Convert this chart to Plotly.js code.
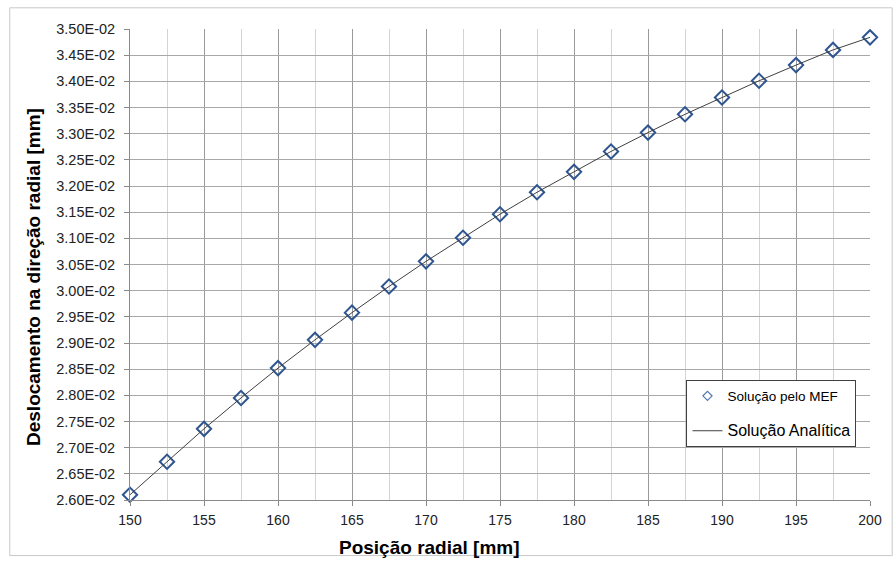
<!DOCTYPE html>
<html>
<head>
<meta charset="utf-8">
<script src="https://cdn.plot.ly/plotly-3.0.1.min.js"></script>
<style>body{margin:0;padding:0;background:#fff;}#chart{width:896px;height:562px;}</style>
</head>
<body>
<div id="chart"></div>
<script>
const posicao = [150, 152.5, 155, 157.5, 160, 162.5, 165, 167.5, 170, 172.5, 175, 177.5, 180, 182.5, 185, 187.5, 190, 192.5, 195, 197.5, 200];
const deslocMEF = [0.02610, 0.02673, 0.02736, 0.02795, 0.02852, 0.02906, 0.02958, 0.03008, 0.03056, 0.03101, 0.03146, 0.03188, 0.03227, 0.03266, 0.03302, 0.03337, 0.03369, 0.03401, 0.03431, 0.03460, 0.03484];
const deslocAnalitica = [0.02610, 0.02673, 0.02736, 0.02795, 0.02852, 0.02906, 0.02958, 0.03008, 0.03056, 0.03101, 0.03146, 0.03188, 0.03227, 0.03266, 0.03302, 0.03337, 0.03369, 0.03401, 0.03431, 0.03460, 0.03484];
const yTickVals = [0.026, 0.0265, 0.027, 0.0275, 0.028, 0.0285, 0.029, 0.0295, 0.030, 0.0305, 0.031, 0.0315, 0.032, 0.0325, 0.033, 0.0335, 0.034, 0.0345, 0.035];
const yTickText = ["2.60E-02","2.65E-02","2.70E-02","2.75E-02","2.80E-02","2.85E-02","2.90E-02","2.95E-02","3.00E-02","3.05E-02","3.10E-02","3.15E-02","3.20E-02","3.25E-02","3.30E-02","3.35E-02","3.40E-02","3.45E-02","3.50E-02"];
const xTickVals = [150, 155, 160, 165, 170, 175, 180, 185, 190, 195, 200];
const xTickText = ["150","155","160","165","170","175","180","185","190","195","200"];
const xTitle = 'Posição radial [mm]';
const yTitle = 'Deslocamento na direção radial [mm]';
const nameMEF = 'Solução pelo MEF';
const nameAnalitica = 'Solução Analítica';

const FONT = 'Liberation Sans, Arial, sans-serif';

const traces = [
  {
    x: posicao, y: deslocMEF, type: 'scatter', mode: 'markers',
    showlegend: false,
    marker: {symbol: 'diamond-open', size: 11, color: '#2E5590', line: {width: 2, color: '#2E5590'}},
    cliponaxis: false
  },
  {
    x: [null], y: [null], type: 'scatter', mode: 'markers',
    name: '<span style="font-size:13.5px">' + nameMEF + '</span>',
    legendgroup: 'a',
    marker: {symbol: 'diamond-open', size: 7, color: '#5577AA', line: {width: 1.2, color: '#5577AA'}}
  },
  {
    x: posicao, y: deslocAnalitica, type: 'scatter', mode: 'lines',
    name: '<span style="font-size:16px">' + nameAnalitica + '</span>',
    legendgroup: 'b',
    line: {color: '#404040', width: 1}
  }
];

const layout = {
  width: 896, height: 562,
  margin: {l: 130, r: 26, t: 29, b: 62},
  paper_bgcolor: '#ffffff', plot_bgcolor: '#ffffff',
  font: {family: FONT, color: '#000'},
  showlegend: true,
  legend: {
    x: 0.752, y: 0.255, xanchor: 'left', yanchor: 'top',
    bgcolor: '#ffffff', bordercolor: '#404040', borderwidth: 1,
    font: {size: 13, color: '#000'}, tracegroupgap: 15, itemwidth: 30
  },
  xaxis: {
    range: [150, 200], tickvals: xTickVals, ticktext: xTickText,
    showgrid: true, gridcolor: '#9a9a9a', gridwidth: 1,
    minor: {dtick: 2.5, tick0: 150, showgrid: true, gridcolor: '#d4d4d4', gridwidth: 1},
    showline: true, linecolor: '#8a8a8a', linewidth: 1, mirror: false,
    ticks: 'outside', ticklen: 5, tickcolor: '#8a8a8a',
    tickfont: {size: 14, color: '#222'}, zeroline: false, ticklabelstandoff: 2
  },
  yaxis: {
    range: [0.026, 0.035], tickvals: yTickVals, ticktext: yTickText,
    showgrid: true, gridcolor: '#a8a8a8', gridwidth: 1,
    showline: true, linecolor: '#8a8a8a', linewidth: 1,
    ticks: 'outside', ticklen: 5, tickcolor: '#8a8a8a',
    tickfont: {size: 14.5, color: '#222'}, zeroline: false, ticklabelstandoff: 6
  },
  annotations: [
    {text: '<b>' + xTitle + '</b>', xref: 'paper', yref: 'paper', x: 0.4054, y: -0.1019,
     xanchor: 'center', yanchor: 'middle', showarrow: false, font: {size: 19, color: '#000', family: FONT}},
    {text: '<b>' + yTitle + '</b>', xref: 'paper', yref: 'paper', x: -0.1297, y: 0.4735,
     xanchor: 'center', yanchor: 'middle', textangle: -90, showarrow: false, font: {size: 19, color: '#000', family: FONT}}
  ],
  shapes: [
    {type: 'rect', xref: 'paper', yref: 'paper', x0: -0.1625, x1: 1.03, y0: -0.118, y1: 1.045,
     line: {color: '#c8c8c8', width: 1}, fillcolor: 'rgba(0,0,0,0)', layer: 'below'}
  ]
};

Plotly.newPlot('chart', traces, layout, {displayModeBar: false, staticPlot: true});
</script>
</body>
</html>
